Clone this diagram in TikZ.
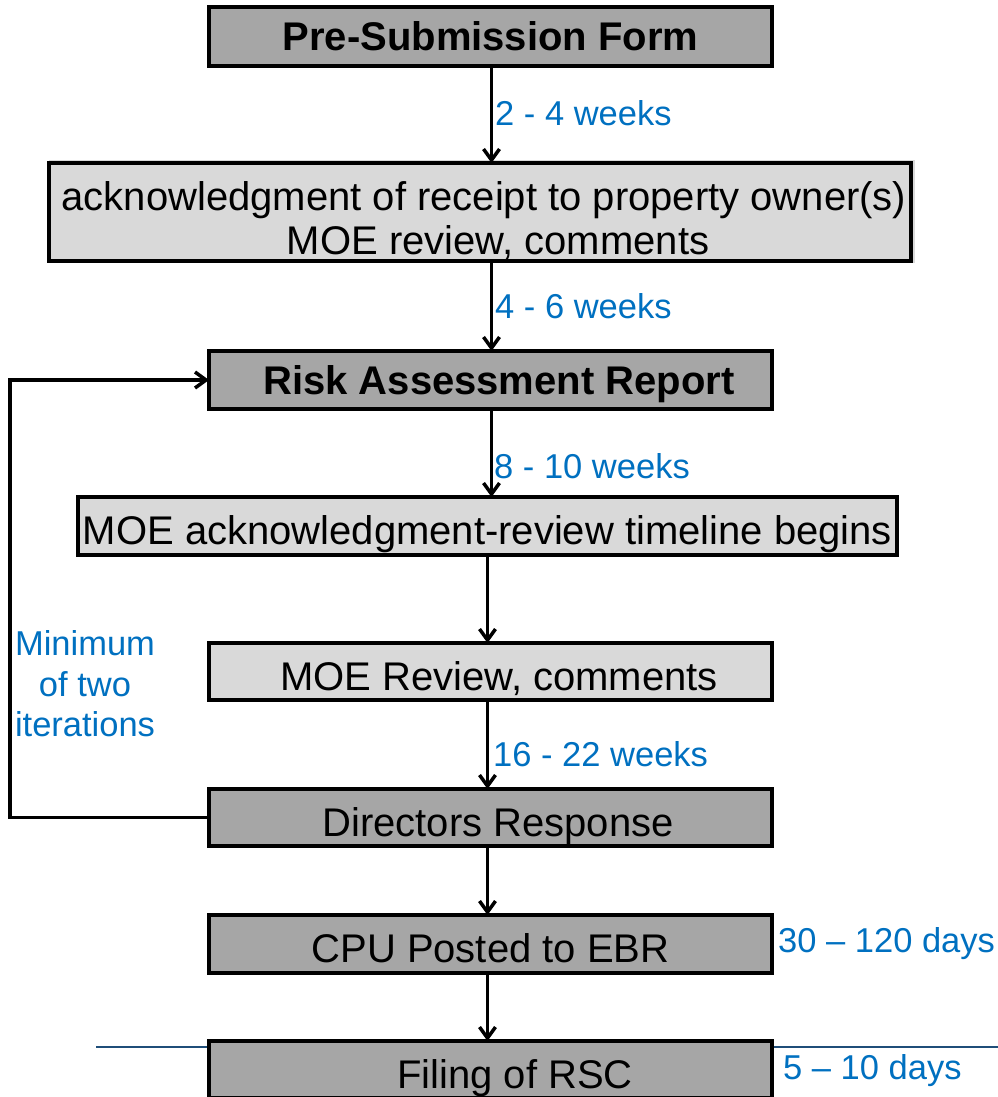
\documentclass[tikz,border=0pt]{standalone}
\usepackage{fontspec}
\setmainfont{Liberation Sans}
\usetikzlibrary{arrows.meta}
\definecolor{darkbox}{RGB}{166,166,166}
\definecolor{lightbox}{RGB}{217,217,217}
\definecolor{lblblue}{RGB}{0,112,192}
\definecolor{lineblue}{RGB}{31,78,121}
\begin{document}
\begin{tikzpicture}[x=1pt,y=-1pt,
  basebox/.style={draw=black, line width=3.5pt, inner sep=0pt, outer sep=0pt,
    minimum width=563pt, font=\fontsize{40}{44}\selectfont},
  sbox/.style={basebox, text height=37pt, text depth=0pt},
  dbox/.style={sbox, fill=darkbox},
  lbox/.style={sbox, fill=lightbox},
  boldbox/.style={basebox, fill=darkbox, font=\fontsize{40}{44}\selectfont\bfseries,
    text height=29pt, text depth=0pt},
  lbl/.style={text=lblblue, font=\fontsize{34.5}{40}\selectfont, inner sep=0pt, anchor=base west},
  arr/.style={line width=3.5pt, -{Straight Barb[length=11pt,width=16pt]}}]
\useasboundingbox (0,0) rectangle (998,1097);
\clip (0,0) rectangle (998,1097);

% boxes
\node[boldbox, minimum height=59pt] (b1) at (490.5,36.5) {Pre-Submission Form};
\fill[lightbox] (49,160) rectangle (915,263);
\node[basebox, fill=lightbox, minimum width=862pt, minimum height=98pt, align=center,
  text height=84pt, text depth=0pt] (b2) at (480,212)
  {\hspace*{8pt}acknowledgment of receipt to property owner(s)\\\hspace*{36pt}MOE review, comments};
\node[boldbox, minimum height=58pt] (b3) at (490.5,380) {\hspace*{17pt}Risk Assessment Report};
\node[lbox, minimum width=819pt, minimum height=58pt] (b4) at (487.5,526) {MOE acknowledgment-review timeline begins};
\node[lbox, minimum height=57pt] (b5) at (490.5,671.5) {\hspace*{17pt}MOE Review, comments};
\node[dbox, minimum height=57pt] (b6) at (490.5,817.5) {\hspace*{15pt}Directors Response};
\node[dbox, minimum height=58pt] (b7) at (490.5,944) {CPU Posted to EBR};
\draw[lineblue, line width=2pt] (96,1047) -- (998,1047);
\node[dbox, minimum height=57pt] (b8) at (490.5,1069.5) {\hspace*{49pt}Filing of RSC};

% connectors
\coordinate (ax) at (491.5,0);
\coordinate (bx) at (487.5,0);
\coordinate (lp) at (10,600);
\draw[arr] (b1.south -| ax) -- (b2.north -| ax);
\draw[arr] (b2.south -| ax) -- (b3.north -| ax);
\draw[arr] (b3.south -| ax) -- (b4.north -| ax);
\draw[arr] (b4.south -| bx) -- (b5.north -| bx);
\draw[arr] (b5.south -| bx) -- (b6.north -| bx);
\draw[arr] (b6.south -| bx) -- (b7.north -| bx);
\draw[arr] (b7.south -| bx) -- (b8.north -| bx);
\draw[arr] (b6.west) -| (lp) |- (b3.west);

% labels
\node[lbl] (l1) at (495,126) {2 - 4 weeks};
\node[lbl] (l2) at (495,318) {4 - 6 weeks};
\node[lbl] (l3) at (494,478) {8 - 10 weeks};
\node[lbl] (l4) at (493,766) {16 - 22 weeks};
\node[lbl] (l5) at (778,952) {30 – 120 days};
\node[lbl] (l6) at (783,1079) {5 – 10 days};
\node[text=lblblue, font=\fontsize{34.5}{40.5}\selectfont, inner sep=0pt, align=center] (mt) at (85,684) {Minimum\\of two\\iterations};
\end{tikzpicture}
\end{document}
